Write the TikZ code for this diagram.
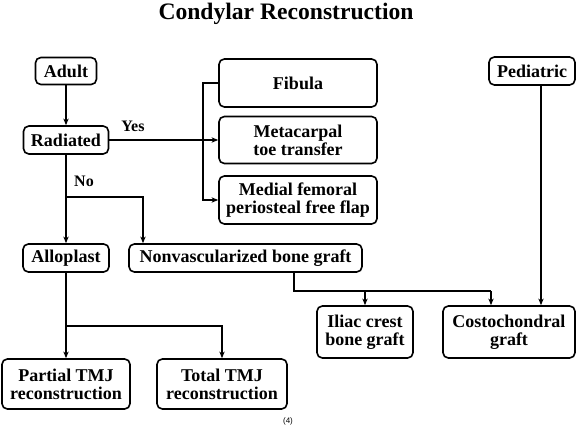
\documentclass[tikz,border=0pt]{standalone}
\usepackage{fontspec}
\setmainfont{Liberation Serif}
\setsansfont{Liberation Sans}
\usetikzlibrary{arrows.meta}
\begin{document}
\begin{tikzpicture}[x=0.75pt,y=-0.75pt,
  box/.style={draw,line width=1.2pt,rounded corners=4pt,align=center,
    font=\bfseries\fontsize{13.5}{13.5}\selectfont,inner sep=0pt},
  conn/.style={line width=1.05pt},
  arr/.style={conn,-{Stealth[length=5pt,width=4pt]}},
  lab/.style={font=\bfseries\fontsize{12}{12}\selectfont,inner sep=0pt}]
\useasboundingbox (0,0) rectangle (576,435);
\node[font=\bfseries\fontsize{17.7}{18}\selectfont] (title) at (286,14) {Condylar Reconstruction};
\node[box,minimum width=61*0.75pt,minimum height=27*0.75pt] (adult) at (66,71) {Adult};
\node[box,minimum width=86*0.75pt,minimum height=28*0.75pt] (ped) at (532,71) {Pediatric};
\node[box,minimum width=158*0.75pt,minimum height=48*0.75pt] (fib) at (298,83) {Fibula};
\node[box,minimum width=158*0.75pt,minimum height=47*0.75pt] (meta) at (298,140) {Metacarpal\\toe transfer};
\node[box,minimum width=158*0.75pt,minimum height=48*0.75pt] (med) at (298,200) {Medial femoral\\periosteal free flap};
\node[box,minimum width=85*0.75pt,minimum height=28*0.75pt] (rad) at (66,140) {Radiated};
\node[box,minimum width=86*0.75pt,minimum height=28*0.75pt] (allo) at (66,258) {Alloplast};
\node[box,minimum width=233*0.75pt,minimum height=28*0.75pt] (nonv) at (245.5,258) {Nonvascularized bone graft};
\node[box,minimum width=96*0.75pt,minimum height=52*0.75pt] (iliac) at (365,332) {Iliac crest\\bone graft};
\node[box,minimum width=132*0.75pt,minimum height=52*0.75pt] (costo) at (509,332) {Costochondral\\graft};
\node[box,minimum width=128*0.75pt,minimum height=50*0.75pt] (part) at (66,384) {Partial TMJ\\reconstruction};
\node[box,minimum width=130*0.75pt,minimum height=50*0.75pt] (tot) at (222,384) {Total TMJ\\reconstruction};
\node[font=\sffamily\fontsize{6}{7}\selectfont] (num) at (288,421) {(4)};
\node[lab] (yes) at (133,126) {Yes};
\node[lab] (no) at (84,181) {No};
% connectors
\draw[arr] (adult) -- (rad);
\draw[arr] (rad.east) -- (meta.west);
\coordinate (fv) at (203,83);
\draw[arr] (fib.west) -- (fv) |- (med.west);
\draw[arr] (rad) -- (allo);
\coordinate (nb) at (66,197);
\draw[arr] (nb) -| (nonv.north -| 143,0);
\coordinate (nd) at (294,291);
\draw[conn] (nonv.south -| nd) -- (nd) -- (491,291);
\draw[arr] (491,291) -- (costo.north -| 491,0);
\draw[arr] (365,291) -- (iliac.north);
\draw[arr] (ped.south -| 541,0) -- (costo.north -| 541,0);
\coordinate (ab) at (66,326);
\draw[arr] (allo.south) -- (ab) -- (part.north -| ab);
\draw[arr] (ab) -| (tot.north);
\end{tikzpicture}
\end{document}
